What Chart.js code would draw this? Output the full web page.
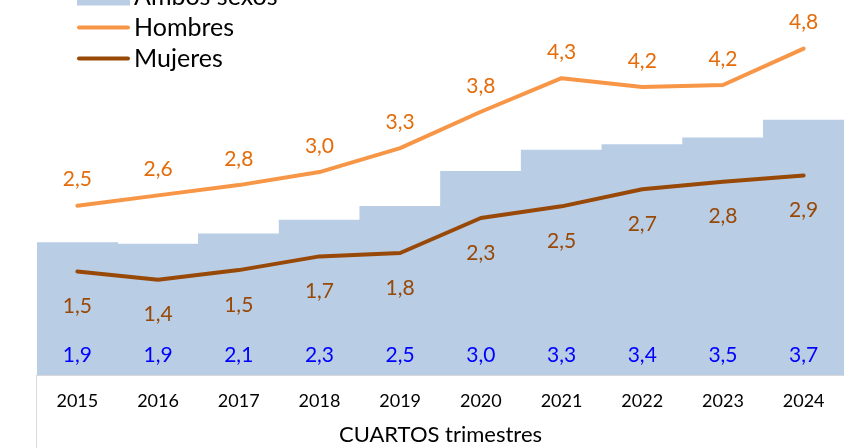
<!DOCTYPE html>
<html>
<head>
<meta charset="utf-8">
<script src="https://cdn.jsdelivr.net/npm/chart.js@4.4.0/dist/chart.umd.min.js"></script>
<style>
  html, body { margin: 0; padding: 0; background: #fff; overflow: hidden; }
</style>
</head>
<body>
<canvas id="chart" width="844" height="448"></canvas>
<script>
// values (labels show one decimal)
const years = ['2015', '2016', '2017', '2018', '2019', '2020', '2021', '2022', '2023', '2024'];
const ambosSexos = [1.93, 1.91, 2.06, 2.26, 2.46, 2.97, 3.28, 3.36, 3.46, 3.72];
const hombres = [2.47, 2.62, 2.77, 2.96, 3.31, 3.84, 4.33, 4.20, 4.23, 4.76];
const mujeres = [1.51, 1.39, 1.53, 1.73, 1.78, 2.29, 2.46, 2.71, 2.82, 2.91];

const FONT = 'Lato';
const fmt = v => v.toFixed(1).replace('.', ',');

// where each series puts its value labels
const labelStyle = {
    'Ambos sexos': { color: '#0000ff', base: 20 },
    'Hombres': { color: '#e46c0a', dy: -26 },
    'Mujeres': { color: '#984807', dy: 35 }
};

const valueLabels = {
    id: 'valueLabels',
    afterDatasetsDraw(chart) {
        const ctx = chart.ctx;
        const area = chart.chartArea;
        ctx.save();
        ctx.font = '21px ' + FONT;
        ctx.textAlign = 'center';
        ctx.textBaseline = 'middle';
        chart.data.datasets.forEach((ds, i) => {
            const st = labelStyle[ds.label];
            chart.getDatasetMeta(i).data.forEach((el, j) => {
                const y = st.base !== undefined ? area.bottom - st.base : el.y + st.dy;
                ctx.fillStyle = st.color;
                ctx.fillText(fmt(ds.data[j]), el.x, y);
            });
        });
        ctx.restore();
    }
};

// legend sits in the top-left corner, partly above the picture
const cornerLegend = {
    id: 'cornerLegend',
    afterDraw(chart) {
        const ctx = chart.ctx;
        const x = chart.chartArea.left + 40;
        let y = chart.chartArea.top - 3.5;
        ctx.save();
        ctx.font = '25px ' + FONT;
        ctx.textBaseline = 'alphabetic';
        chart.data.datasets.forEach(ds => {
            if (ds.type === 'line') {
                ctx.strokeStyle = ds.borderColor;
                ctx.lineWidth = 4;
                ctx.lineCap = 'round';
                ctx.beginPath();
                ctx.moveTo(x + 2, y);
                ctx.lineTo(x + 51, y);
                ctx.stroke();
            } else {
                ctx.fillStyle = ds.backgroundColor;
                ctx.fillRect(x, y - 9, 53, 18);
            }
            ctx.fillStyle = '#000';
            ctx.fillText(ds.label, x + 57, y + 8.5);
            y += 31;
        });
        ctx.restore();
    }
};

const leftRule = {
    id: 'leftRule',
    afterDraw(chart) {
        const ctx = chart.ctx;
        const x = Math.round(chart.chartArea.left) - 0.5;
        ctx.save();
        ctx.strokeStyle = '#d9d9d9';
        ctx.lineWidth = 1;
        ctx.beginPath();
        ctx.moveTo(x, chart.chartArea.bottom);
        ctx.lineTo(x, chart.height);
        ctx.stroke();
        ctx.restore();
    }
};

function draw() {
    new Chart(document.getElementById('chart'), {
        type: 'bar',
        data: {
            labels: years,
            datasets: [{
                type: 'bar',
                label: 'Ambos sexos',
                data: ambosSexos,
                backgroundColor: '#b9cde5',
                categoryPercentage: 1,
                barPercentage: 1,
                order: 3
            }, {
                type: 'line',
                label: 'Hombres',
                data: hombres,
                borderColor: '#f79646',
                borderWidth: 4,
                borderCapStyle: 'round',
                borderJoinStyle: 'round',
                pointRadius: 0,
                tension: 0,
                order: 2
            }, {
                type: 'line',
                label: 'Mujeres',
                data: mujeres,
                borderColor: '#984807',
                borderWidth: 4,
                borderCapStyle: 'round',
                borderJoinStyle: 'round',
                pointRadius: 0,
                tension: 0,
                order: 1
            }]
        },
        options: {
            responsive: false,
            animation: false,
            devicePixelRatio: 1,
            layout: { padding: { left: 37, right: 0, top: 0, bottom: 0 } },
            plugins: {
                legend: { display: false },
                tooltip: { enabled: false }
            },
            scales: {
                x: {
                    grid: { drawOnChartArea: false, drawTicks: false },
                    border: { display: true, color: '#d9d9d9', width: 1 },
                    ticks: { color: '#000', font: { family: FONT, size: 18 }, padding: 15 },
                    title: {
                        display: true,
                        text: 'CUARTOS trimestres',
                        color: '#000',
                        font: { family: FONT, size: 22 },
                        padding: { top: -5, bottom: 0 }
                    }
                },
                y: { display: false, min: 0, max: 5.47 }
            }
        },
        plugins: [valueLabels, cornerLegend, leftRule]
    });
}

document.fonts.load('18px ' + FONT).then(draw, draw);
</script>
</body>
</html>
